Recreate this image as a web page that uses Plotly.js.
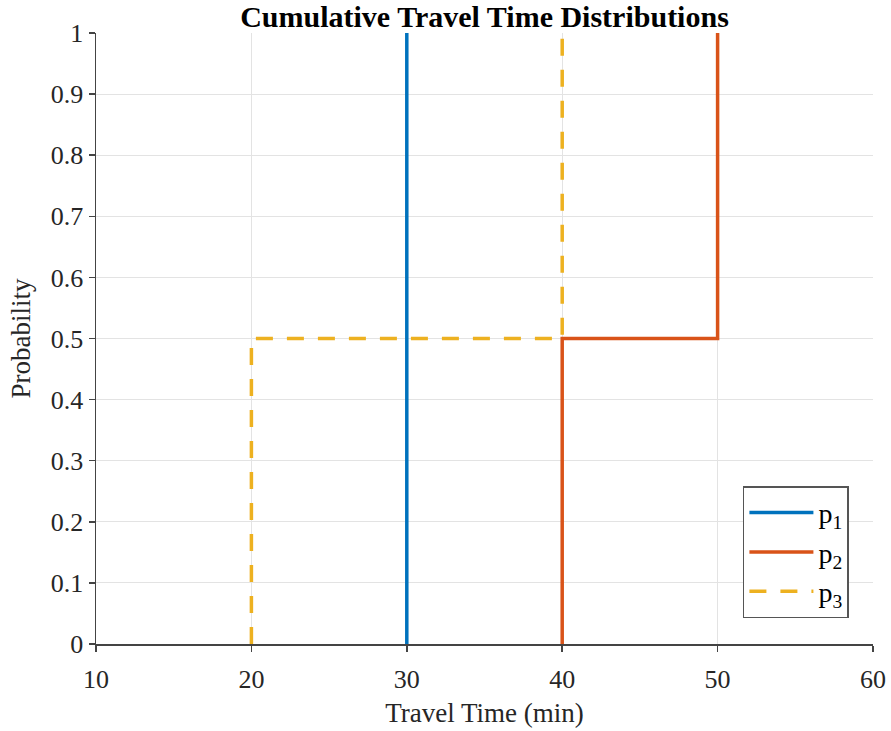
<!DOCTYPE html>
<html>
<head>
<meta charset="utf-8">
<script src="https://cdn.plot.ly/plotly-3.0.1.min.js"></script>
<style>html,body{margin:0;padding:0;background:#fff;}#chart{width:891px;height:731px;}</style>
</head>
<body>
<div id="chart"></div>
<script>
// Data (step CDFs)
const p1X = [30, 30];
const p1Y = [0, 1];
const p2X = [40, 40, 50, 50];
const p2Y = [0, 0.5, 0.5, 1];
const p3X = [20, 20, 40, 40];
const p3Y = [0, 0.5, 0.5, 1];
const seriesNames = ['p<sub>1</sub>', 'p<sub>2</sub>', 'p<sub>3</sub>'];
const xTicks = [10, 20, 30, 40, 50, 60];
const yTicks = [0, 0.1, 0.2, 0.3, 0.4, 0.5, 0.6, 0.7, 0.8, 0.9, 1];
const yTickText = ['0', '0.1', '0.2', '0.3', '0.4', '0.5', '0.6', '0.7', '0.8', '0.9', '1'];

const font = 'Liberation Serif';
const traces = [
  {x: p1X, y: p1Y, name: seriesNames[0], mode: 'lines', line: {color: '#0072BD', width: 3.5}},
  {x: p2X, y: p2Y, name: seriesNames[1], mode: 'lines', line: {color: '#D95319', width: 3.5}},
  {x: p3X, y: p3Y, name: seriesNames[2], mode: 'lines', line: {color: '#EDB120', width: 3.5, dash: '17px,14px'}}
];
const layout = {
  width: 891, height: 731,
  margin: {l: 96, r: 18, t: 33, b: 87},
  paper_bgcolor: '#fff', plot_bgcolor: '#fff',
  font: {family: font, size: 26, color: '#262626'},
  title: {text: '<b>Cumulative Travel Time Distributions</b>', font: {family: font, size: 30, color: '#000'}, x: 0.5, xanchor: 'center', xref: 'paper', y: 0.977, yref: 'container', yanchor: 'middle'},
  xaxis: {
    range: [10, 60], tickvals: xTicks, ticktext: xTicks.map(String),
    showgrid: true, gridcolor: '#e3e3e3', gridwidth: 1,
    showline: true, linecolor: '#444', linewidth: 1.5,
    ticks: 'outside', ticklen: 6, tickcolor: '#444', tickwidth: 1.5,
    ticklabelstandoff: 5,
    zeroline: false,
    title: {text: 'Travel Time (min)', font: {family: font, size: 27, color: '#262626'}, standoff: 10},
    tickfont: {family: font, size: 26, color: '#262626'}
  },
  yaxis: {
    range: [0, 1], tickvals: yTicks, ticktext: yTickText,
    showgrid: true, gridcolor: '#e3e3e3', gridwidth: 1,
    showline: true, linecolor: '#444', linewidth: 1.5,
    ticks: 'outside', ticklen: 6, tickcolor: '#444', tickwidth: 1.5,
    zeroline: false,
    title: {text: 'Probability', font: {family: font, size: 27, color: '#262626'}, standoff: 12},
    tickfont: {family: font, size: 26, color: '#262626'}
  },
  legend: {
    x: 0.969, y: 0.042, xanchor: 'right', yanchor: 'bottom',
    bgcolor: '#fff', bordercolor: '#555', borderwidth: 1.5,
    font: {family: font, size: 28, color: '#000'},
    tracegroupgap: 0, itemwidth: 64
  },
  showlegend: true
};
Plotly.newPlot('chart', traces, layout, {displayModeBar: false, staticPlot: true});
</script>
</body>
</html>
